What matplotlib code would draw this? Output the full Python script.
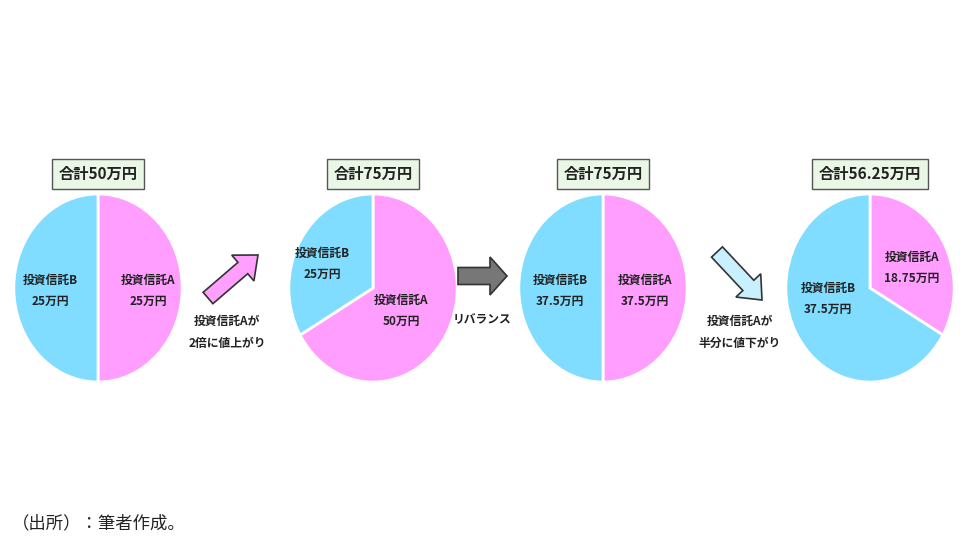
import matplotlib.pyplot as plt
from matplotlib.patches import FancyArrow

plt.rcParams["font.family"] = ["Noto Sans CJK JP", "DejaVu Sans"]

BLUE = "#80DDFF"
PINK = "#FF9EFF"

# data: value of fund A and fund B (万円) at each stage
titles = ["合計50万円", "合計75万円", "合計75万円", "合計56.25万円"]
fund_a = [25, 50, 37.5, 18.75]
fund_b = [25, 25, 37.5, 37.5]
label_a = ["25万円", "50万円", "37.5万円", "18.75万円"]
label_b = ["25万円", "25万円", "37.5万円", "37.5万円"]

W, H = 960, 540
fig = plt.figure(figsize=(9.6, 5.4), dpi=100)

# pie boxes in pixels: left, top, width, height
pie_left = [13, 288, 518, 785]
pie_top, pie_w, pie_h = 193, 170, 190

for i in range(4):
    ax = fig.add_axes([pie_left[i] / W, 1 - (pie_top + pie_h) / H, pie_w / W, pie_h / H])
    ax.pie([fund_a[i], fund_b[i]], colors=[PINK, BLUE], startangle=90, counterclock=False,
           wedgeprops={"edgecolor": "white", "linewidth": 2})
    ax.set_xlim(-1.01, 1.01)
    ax.set_ylim(-1.01, 1.01)
    ax.set_aspect("auto")
    ax.axis("off")

# overlay axes in pixel coordinates for text, boxes and arrows
bg = fig.add_axes([0, 0, 1, 1])
bg.set_xlim(0, W)
bg.set_ylim(H, 0)
bg.axis("off")
bg.set_zorder(10)

# label offsets (pixels, relative to pie centre) for A and B
a_pos = [(50, 2), (28, 22), (42, 2), (42, -21)]
b_pos = [(-48, 2), (-51, -25), (-43, 2), (-42, 10)]

lab = dict(ha="center", va="center", fontsize=8.5, fontweight="bold", color="#222222")
for i in range(4):
    cx = pie_left[i] + pie_w / 2
    cy = pie_top + pie_h / 2
    bg.text(cx + a_pos[i][0], cy + a_pos[i][1] - 10, "投資信託A", **lab)
    bg.text(cx + a_pos[i][0], cy + a_pos[i][1] + 11, label_a[i], **lab)
    bg.text(cx + b_pos[i][0], cy + b_pos[i][1] - 10, "投資信託B", **lab)
    bg.text(cx + b_pos[i][0], cy + b_pos[i][1] + 11, label_b[i], **lab)

    bg.text(cx, 174, titles[i], ha="center", va="center", fontsize=11, fontweight="bold",
            color="#222222",
            bbox=dict(boxstyle="square,pad=0.45", facecolor="#EAF7E6", edgecolor="#555555",
                      linewidth=1))

# arrows between pies
bg.add_patch(FancyArrow(208, 298, 50, -43, width=15, head_width=34, head_length=20,
                        length_includes_head=True, facecolor="#FFA0FF", edgecolor="#333333",
                        linewidth=1.2))
bg.add_patch(FancyArrow(458, 276, 49, 0, width=17, head_width=38, head_length=17,
                        length_includes_head=True, facecolor="#777777", edgecolor="#333333",
                        linewidth=1.2))
bg.add_patch(FancyArrow(717, 252, 45, 48, width=15, head_width=34, head_length=20,
                        length_includes_head=True, facecolor="#C8F0FF", edgecolor="#333333",
                        linewidth=1.2))

bg.text(227, 321, "投資信託Aが", **lab)
bg.text(227, 343, "2倍に値上がり", **lab)
bg.text(482, 320, "リバランス", **lab)
bg.text(740, 321, "投資信託Aが", **lab)
bg.text(740, 343, "半分に値下がり", **lab)

bg.text(12, 523, "（出所）：筆者作成。", ha="left", va="center", fontsize=12.5, color="#222222")

fig.savefig("out.png", dpi=100)
